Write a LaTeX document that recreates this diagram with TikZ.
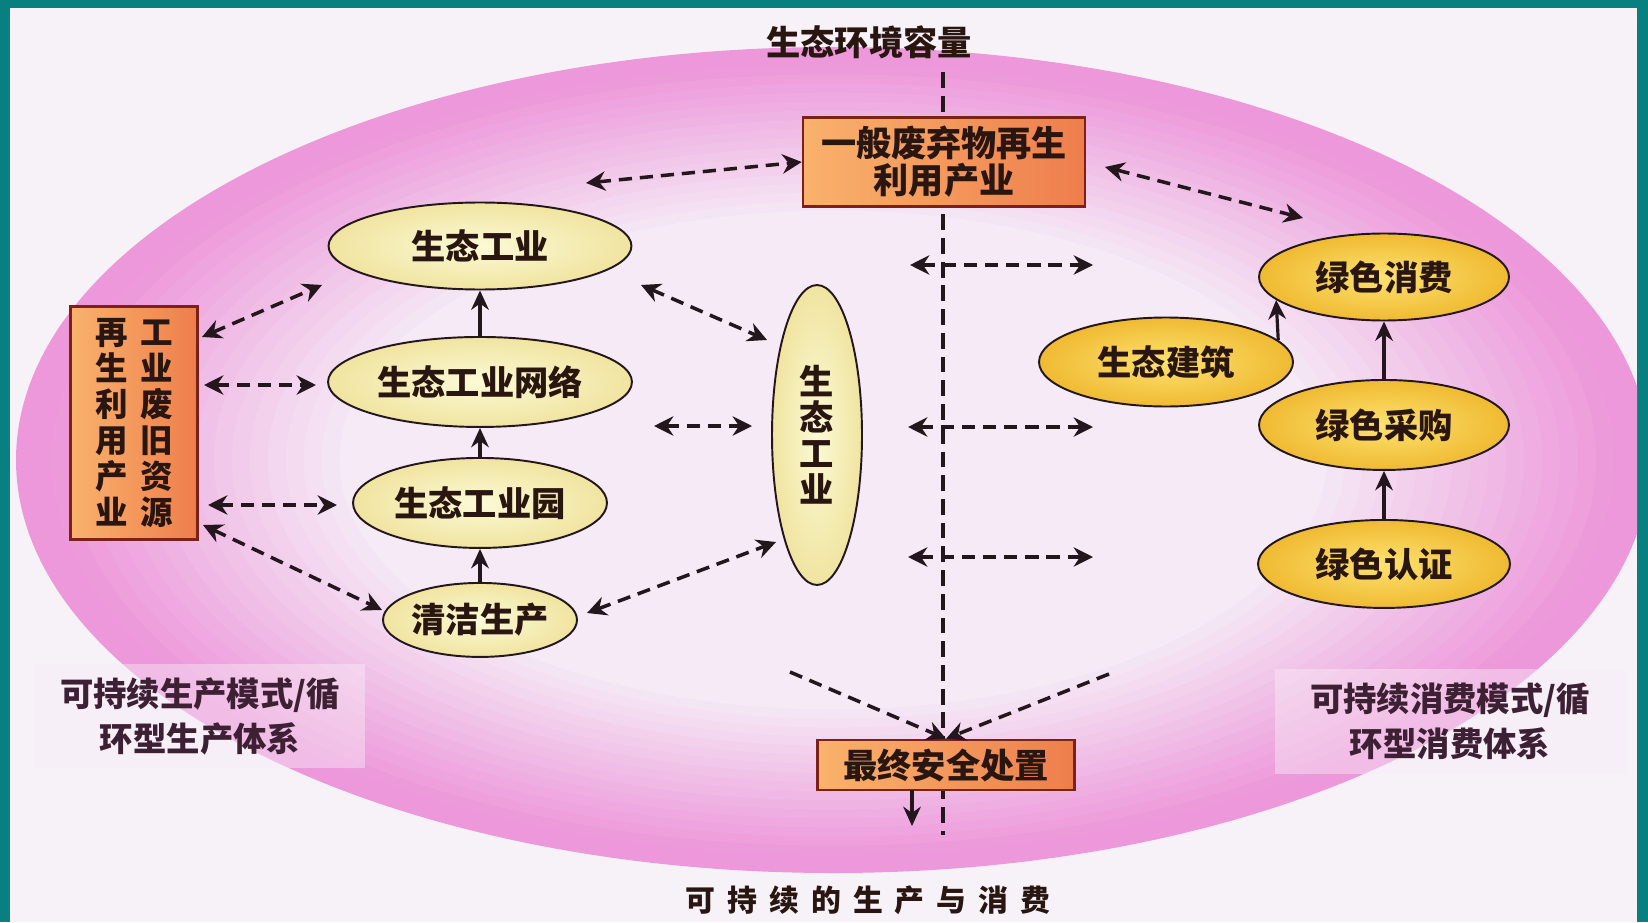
\documentclass[tikz,border=0pt]{standalone}
\usepackage{fontspec}
\setmainfont{Noto Sans CJK SC}
\usetikzlibrary{arrows.meta,shapes.geometric}

\definecolor{frameteal}{RGB}{8,128,128}
\definecolor{paper}{RGB}{247,242,248}
\definecolor{pinkedge}{RGB}{237,152,218}
\definecolor{pinkcore}{RGB}{245,236,246}
\definecolor{capfill}{RGB}{248,236,246}
\definecolor{palein}{RGB}{252,250,214}
\definecolor{paleout}{RGB}{240,228,160}
\definecolor{goldin}{RGB}{252,226,112}
\definecolor{goldout}{RGB}{240,186,50}
\definecolor{boxin}{RGB}{249,178,108}
\definecolor{boxout}{RGB}{238,126,76}
\definecolor{boxline}{RGB}{125,32,24}
\definecolor{inkline}{RGB}{35,22,28}
\definecolor{inktext}{RGB}{42,22,16}
\definecolor{captext}{RGB}{62,32,52}

\tikzset{every node/.style={text=inktext, font=\fontsize{19.5}{22}\selectfont\bfseries}}
\tikzset{palenode/.style={ellipse, draw=inkline, line width=1.1pt, inner sep=0pt, inner color=palein, outer color=paleout}}
\tikzset{goldnode/.style={ellipse, draw=inkline, line width=1.1pt, inner sep=0pt, inner color=goldin, outer color=goldout}}
\tikzset{wastebox/.style={rectangle, draw=boxline, line width=1.5pt, inner sep=0pt, left color=boxin, right color=boxout}}
\tikzset{captxt/.style={text=captext, align=center, fill=capfill, fill opacity=0.45, text opacity=1,
  minimum height=2.1cm, font=\fontsize{19}{25.6}\selectfont\bfseries}}
\tikzset{dbl/.style={draw=inkline, line width=2pt, dash pattern=on 7.5pt off 4.5pt, {Stealth[length=11pt,width=11pt]}-{Stealth[length=11pt,width=11pt]}}}
\tikzset{one/.style={draw=inkline, line width=2pt, dash pattern=on 7.5pt off 4.5pt, -{Stealth[length=11pt,width=11pt]}}}
\tikzset{up/.style={draw=inkline, line width=1.8pt, -{Stealth[length=11pt,width=10pt]}}}

\begin{document}
\begin{tikzpicture}[x=0.02cm, y=-0.02cm]
  \useasboundingbox (0,0) rectangle (1648,922);
  % frame and page
  \fill[frameteal] (0,0) rectangle (1648,922);
  \fill[paper] (10,8) rectangle (1637,922);
  \begin{scope}
    \clip (10,8) rectangle (1637,922);
    \foreach \s in {0,...,18} {
      \pgfmathsetmacro{\f}{1-0.022*\s}
      \pgfmathsetmacro{\p}{min(100,110-6*\s)}
      \fill[pinkedge!\p!pinkcore] (833,460) ellipse [x radius=817*\f, y radius=413*\f];
    }
  \end{scope}

  % axis
  \node (title) at (869,42) {生态环境容量};
  \coordinate (vtop) at (943,72);
  \coordinate (vbot) at (943,835);
  \draw[inkline, line width=1.8pt, dash pattern=on 9pt off 4.5pt] (vtop) -- (vbot);

  % production side
  \node[wastebox, minimum width=2.54cm, minimum height=4.66cm, align=center,
        font=\fontsize{18.5}{20.5}\selectfont\bfseries] (vbox) at (134,423)
        {再\hspace{7pt}工\\生\hspace{7pt}业\\利\hspace{7pt}废\\用\hspace{7pt}旧\\产\hspace{7pt}资\\业\hspace{7pt}源};
  \node[palenode, minimum width=6.06cm, minimum height=1.74cm] (eco) at (480,246) {生态工业};
  \node[palenode, minimum width=6.08cm, minimum height=1.8cm] (net) [node distance=2.72cm, below of=eco] {生态工业网络};
  \node[palenode, minimum width=5.08cm, minimum height=1.8cm] (park) [node distance=2.42cm, below of=net] {生态工业园};
  \node[palenode, minimum width=3.88cm, minimum height=1.48cm] (clean) [node distance=2.34cm, below of=park] {清洁生产};
  \node[palenode, minimum width=1.8cm, minimum height=6cm, align=center,
        font=\fontsize{19.5}{20.5}\selectfont\bfseries] (veco) at (817,435) {生\\态\\工\\业};

  % recycling and disposal
  \node[wastebox, minimum width=5.64cm, minimum height=1.78cm, align=center,
        font=\fontsize{20}{21}\selectfont\bfseries] (gbox) at (944,162) {一般废弃物再生\\利用产业};
  \node[wastebox, minimum width=5.14cm, minimum height=1cm] (fbox) at (946,765) {最终安全处置};

  % consumption side
  \node[goldnode, minimum width=5cm, minimum height=1.74cm] (cons) at (1384,277) {绿色消费};
  \node[goldnode, minimum width=5cm, minimum height=1.8cm] (purch) [node distance=2.96cm, below of=cons] {绿色采购};
  \node[goldnode, minimum width=5.04cm, minimum height=1.76cm] (cert) [node distance=2.78cm, below of=purch] {绿色认证};
  \node[goldnode, minimum width=5.08cm, minimum height=1.78cm] (arch) at (1166,362) {生态建筑};

  % captions
  \node[captxt, minimum width=6.6cm] (lcap) at (200,716) {可持续生产模式/循\\环型生产体系};
  \node[captxt, minimum width=7cm] (rcap) at (1450,721) {可持续消费模式/循\\环型消费体系};
  \node[font=\fontsize{17}{20}\selectfont\bfseries\addfontfeature{LetterSpace=40}] (foot) at (868,900) {可持续的生产与消费};

  % free ends
  \coordinate (a1) at (586,183);
  \coordinate (b1) at (1105,167);
  \coordinate (b2) at (1303,218);
  \coordinate (c1) at (202,337);
  \coordinate (c2) at (322,285);
  \coordinate (d1) at (204,385);
  \coordinate (d2) at (316,385);
  \coordinate (e1) at (208,505);
  \coordinate (e2) at (337,505);
  \coordinate (f1) at (203,525);
  \coordinate (f2) at (382,610);
  \coordinate (g1) at (641,285);
  \coordinate (g2) at (767,340);
  \coordinate (h1) at (654,426);
  \coordinate (h2) at (752,426);
  \coordinate (i1) at (587,613);
  \coordinate (i2) at (776,542);
  \coordinate (j1) at (910,265);
  \coordinate (j2) at (1093,265);
  \coordinate (k1) at (908,427);
  \coordinate (k2) at (1093,427);
  \coordinate (l1) at (908,557);
  \coordinate (l2) at (1093,557);
  \coordinate (m1) at (790,672);
  \coordinate (m2) at (1109,674);
  \coordinate (drop) at (912,790);
  \coordinate (out) at (912,826);

  \path (a1) edge[dbl] (gbox.west);
  \path (b1) edge[dbl] (b2);

  \path (c1) edge[dbl] (c2);
  \path (d1) edge[dbl] (d2);
  \path (e1) edge[dbl] (e2);
  \path (f1) edge[dbl] (f2);

  \path (g1) edge[dbl] (g2);
  \path (h1) edge[dbl] (h2);
  \path (i1) edge[dbl] (i2);

  \path (j1) edge[dbl] (j2);
  \path (k1) edge[dbl] (k2);
  \path (l1) edge[dbl] (l2);

  \path (m1) edge[one] (fbox.north);
  \path (m2) edge[one] (fbox.north);
  \path (drop) edge[up] (out);

  \path (clean) edge[up] (park);
  \path (park) edge[up] (net);
  \path (net) edge[up] (eco);

  \path (cert) edge[up] (purch);
  \path (purch) edge[up] (cons);
  \path (arch.11) edge[up] (cons.192);
\end{tikzpicture}
\end{document}
